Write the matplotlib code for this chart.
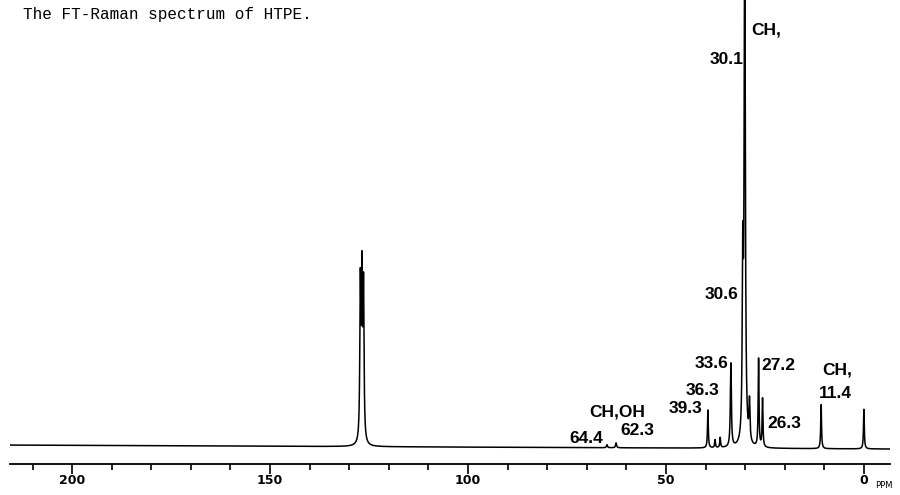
"""
13C trace of HTPE (labelled as FT-Raman in the source figure).
Peaks are rebuilt as narrow Lorentzians from positions/heights read off the plot.
"""

import numpy as np
import matplotlib
matplotlib.use('Agg')
import matplotlib.pyplot as plt

TITLE = 'The FT-Raman spectrum of HTPE.'

# peak list
peak_ppm = [127.2, 126.8, 126.4, 64.9, 62.6, 39.4, 37.6, 36.3, 33.6,
            30.6, 30.1, 28.9, 26.6, 25.6, 10.8, 0.0]
peak_height = [35.0, 36.0, 34.0, 0.7, 1.1, 8.6, 1.8, 2.3, 19.0,
               38.0, 115.0, 9.0, 20.0, 11.0, 10.0, 9.0]
peak_hwhm = [0.15, 0.15, 0.15, 0.15, 0.15, 0.12, 0.12, 0.12, 0.15,
             0.15, 0.18, 0.15, 0.12, 0.12, 0.12, 0.12]

# baseline drifts down slightly from left to right
baseline_ppm = [215.7, -6.6]
baseline_level = [0.9, 0.0]

# peak annotations: text, ppm, intensity, alignment
label_text = ['CH,', '30.1', '30.6', '33.6', '36.3', '39.3', 'CH,OH',
              '62.3', '64.4', '27.2', '26.3', 'CH,', '11.4']
label_ppm = [28.5, 30.3, 31.8, 34.3, 36.4, 40.7, 62.4, 61.6, 65.9,
             25.8, 24.5, 6.8, 7.3]
label_int = [95.2, 88.4, 35.2, 19.5, 13.4, 9.1, 8.4, 4.3, 2.3,
             18.9, 5.9, 18.0, 12.7]
label_ha = ['left', 'right', 'right', 'right', 'right', 'right', 'center',
            'left', 'right', 'left', 'left', 'center', 'center']

major_ticks = [200, 150, 100, 50, 0]
tick_labels = ['200', '150', '100', '50', '0']
minor_ticks = list(range(210, -1, -10))

# build the trace
ppm = np.linspace(baseline_ppm[0], baseline_ppm[1], 40000)
trace = np.interp(ppm, baseline_ppm[::-1], baseline_level[::-1])
for p, h, w in zip(peak_ppm, peak_height, peak_hwhm):
    trace += h * w**2 / ((ppm - p)**2 + w**2)

fig = plt.figure(figsize=(9, 4.95), dpi=100)
ax = fig.add_axes([10 / 900, 1 - 464 / 495, 880 / 900, 464 / 495])
ax.plot(ppm, trace, color='black', lw=1.1)
ax.set_xlim(215.7, -6.6)
ax.set_ylim(-3.4, 102.0)

for side in ['top', 'left', 'right']:
    ax.spines[side].set_visible(False)
ax.spines['bottom'].set_linewidth(1.3)
ax.set_yticks([])
ax.set_xticks(major_ticks)
ax.set_xticklabels(tick_labels, fontweight='bold')
ax.set_xticks(minor_ticks, minor=True)
ax.tick_params(axis='x', which='major', length=7.5, width=1.2, pad=0,
               labelsize=9)
ax.tick_params(axis='x', which='minor', length=4.3, width=1.2)

for t, x, y, ha in zip(label_text, label_ppm, label_int, label_ha):
    ax.text(x, y, t, ha=ha, va='center', fontsize=12.5, fontweight='bold',
            family='Liberation Sans')

fig.text(875 / 900, 1 - 486 / 495, 'PPM', fontsize=6, va='center', ha='left')
fig.text(23 / 900, 1 - 14 / 495, TITLE, fontsize=11.5, va='center', ha='left',
         family='Liberation Mono')

fig.savefig('out.png', dpi=100)
